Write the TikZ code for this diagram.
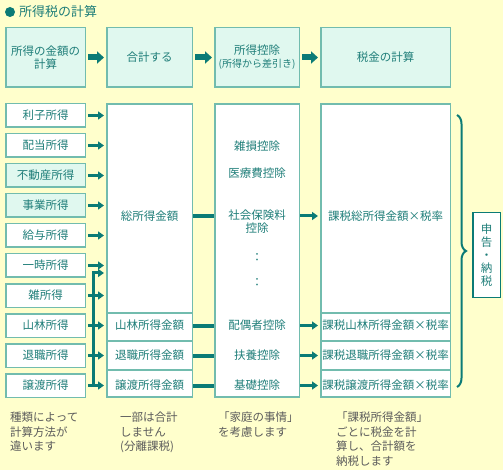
\documentclass[tikz,border=0pt]{standalone}
\usepackage{fontspec}
\setmainfont{Noto Sans CJK JP}
\usetikzlibrary{arrows.meta,calc,decorations.pathreplacing,positioning}
\definecolor{paper}{HTML}{FFFFCC}
\definecolor{mint}{HTML}{E0F8EF}
\definecolor{rim}{HTML}{72BCAE}
\definecolor{deepteal}{HTML}{0B7B76}
\definecolor{inkteal}{HTML}{1F7E79}
\definecolor{notegray}{HTML}{5C5C5C}
\tikzset{
  box/.style={draw=rim, line width=1.5pt, fill=white, text=inkteal, inner sep=0pt, align=center},
  head box/.style={box, fill=mint, minimum height=59.5pt},
  income/.style={box, minimum width=79.5pt, minimum height=23.5pt},
  column/.style={box, minimum height=293pt},
  boxtext/.style={text=inkteal, inner sep=0pt, align=center},
  big arrow/.style={draw=deepteal, line width=6pt, -{Triangle[length=7pt,width=12pt]}, shorten <=2pt, shorten >=2pt},
  flow/.style={draw=deepteal, line width=3pt, -{Triangle[length=6pt,width=8pt]}, shorten <=2pt, shorten >=2pt},
  link/.style={draw=deepteal, line width=4pt},
  divider/.style={draw=rim, line width=1.5pt},
  note/.style={text=notegray, align=left, anchor=north west, inner sep=0pt, font=\fontsize{11.5}{14.5}\selectfont},
  sum brace/.style={draw=deepteal, line width=2pt, decorate, decoration={brace, amplitude=9pt}},
}

\begin{document}
\begin{tikzpicture}[x=1pt, y=-1pt, font=\fontsize{11.5}{13}\selectfont]
  % Background
  \fill[paper] (0,0) rectangle (503,470);
  \useasboundingbox (0,0) rectangle (503,470);

  % Title
  \fill[deepteal] (10,12) circle[radius=5pt];
  \node[anchor=west, inner sep=0pt, text=inkteal, font=\fontsize{13}{15}\selectfont] (title) at (19,12) {所得税の計算};

  % Steps
  \node[head box, minimum width=79.5pt] (kingaku) at (45.5,57.5) {所得の金額の\\計算};
  \node[head box, minimum width=85.5pt] (goukei) at (149.5,57.5) {合計する};
  \node[head box, minimum width=84.5pt] (koujo) at (257,57.5) {所得控除\\{\fontsize{10}{12}\selectfont (所得から差引き)}};
  \node[head box, minimum width=129.5pt] (keisan) at (385.5,57.5) {税金の計算};
  \draw[big arrow] (kingaku) -- (goukei);
  \draw[big arrow] (goukei) -- (koujo);
  \draw[big arrow] (koujo) -- (keisan);

  % Kinds of income
  \foreach \nm/\txt/\fl [count=\i from 0] in {rishi/利子所得/white, haito/配当所得/white,
      fudosan/不動産所得/mint, jigyo/事業所得/mint, kyuyo/給与所得/white, ichiji/一時所得/white,
      zatsu/雑所得/white, sanrin/山林所得/white, taishoku/退職所得/white, joto/譲渡所得/white}
    \node[income, fill=\fl] (\nm) at (45.5,115.5+30*\i) {\txt};

  % Amount columns
  \node[column, minimum width=85.5pt] (gokei) at (149.5,250.5) {};
  \node[column, minimum width=84.5pt] (kojo) at (257,250.5) {};
  \node[column, minimum width=129.5pt] (zeigaku) at (385.5,250.5) {};
  \foreach \y in {313,341,370} {
    \draw[divider] (106.75,\y) -- (192.25,\y);
    \draw[divider] (320.75,\y) -- (450.25,\y);
  }

  \node[boxtext] (sogaku) at (149.5,216) {総所得金額};
  \node[boxtext] (sanringaku) at (gokei |- sanrin) {山林所得金額};
  \node[boxtext] (taishokugaku) at (gokei |- taishoku) {退職所得金額};
  \node[boxtext] (jotogaku) at (gokei |- joto) {譲渡所得金額};

  \node[boxtext] (zasson) at (257,146) {雑損控除};
  \node[boxtext] (iryo) at (257,173) {医療費控除};
  \node[boxtext] (shakai) at (257,222) {社会保険料\\控除};
  \node[boxtext] (dots1) at (257,258) {：};
  \node[boxtext] (dots2) at (257,283) {：};
  \node[boxtext] (haigu) at (kojo |- sanrin) {配偶者控除};
  \node[boxtext] (fuyo) at (kojo |- taishoku) {扶養控除};
  \node[boxtext] (kiso) at (kojo |- joto) {基礎控除};

  \node[boxtext] (kazeisogaku) at (zeigaku |- sogaku) {課税総所得金額×税率};
  \node[boxtext] (kazeisanrin) at (zeigaku |- sanrin) {課税山林所得金額×税率};
  \node[boxtext] (kazeitaishoku) at (zeigaku |- taishoku) {課税退職所得金額×税率};
  \node[boxtext] (kazeijoto) at (zeigaku |- joto) {課税譲渡所得金額×税率};

  % Connectors
  \foreach \nm in {rishi,haito,fudosan,jigyo,kyuyo,ichiji,zatsu,sanrin,taishoku,joto}
    \draw[flow] (\nm.east) -- (\nm.east -| gokei.west);
  \coordinate (bartop) at (93,273);
  \draw[flow, shorten <=0pt] (bartop |- joto) -- (bartop) -- (bartop -| gokei.west);

  \foreach \row in {sogaku,sanringaku,taishokugaku,jotogaku} {
    \draw[link] (gokei.east |- \row) -- (kojo.west |- \row);
    \draw[flow, shorten <=0pt] (kojo.east |- \row) -- (zeigaku.west |- \row);
  }

  % Filing
  \coordinate (brtop) at (457,115);
  \coordinate (brbot) at (457,387);
  \draw[sum brace] (brtop) -- (brbot);
  \node[box, draw=deepteal, minimum width=27.5pt, minimum height=84.5pt] (shinkoku) at (486.5,255) {申\\告\\・\\納\\税};

  % Notes
  \node[note] (note1) at (10,412) {種類によって\\計算方法が\\違います};
  \node[note] (note2) at (120,412) {一部は合計\\しません\\(分離課税)};
  \node[note] (note3) at (218,412) {「家庭の事情」\\を考慮します};
  \node[note] (note4) at (336,412) {「課税所得金額」\\ごとに税金を計\\算し、合計額を\\納税します};
\end{tikzpicture}
\end{document}
